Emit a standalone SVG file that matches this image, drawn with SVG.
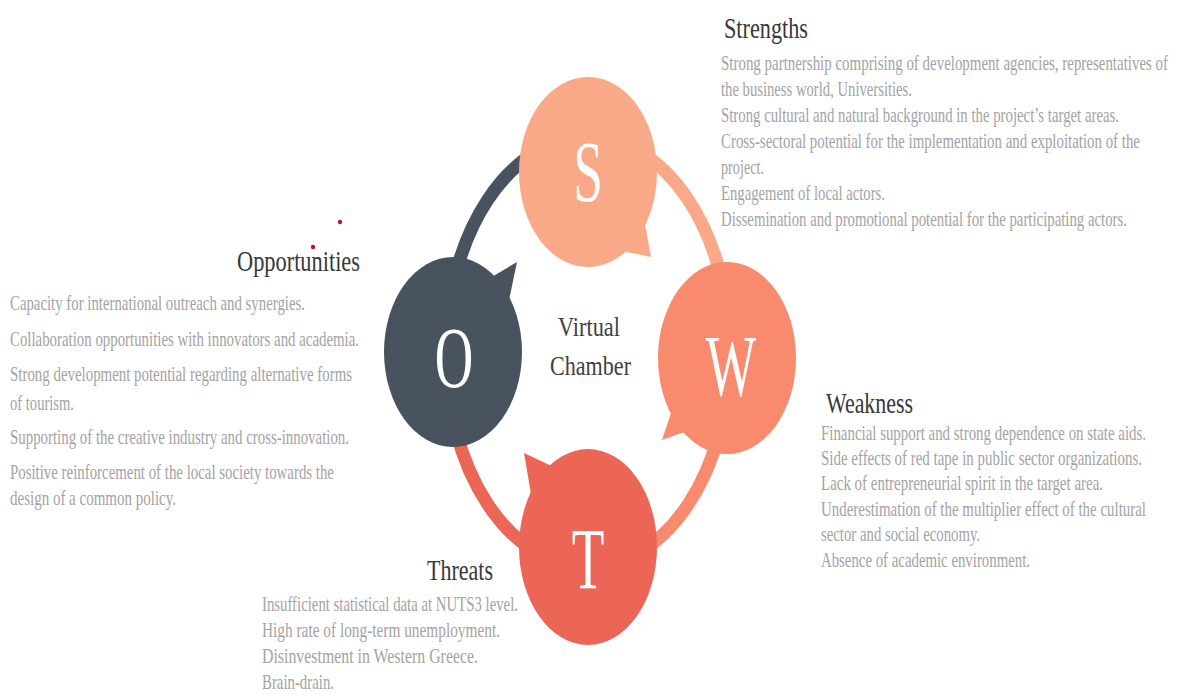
<svg xmlns="http://www.w3.org/2000/svg" width="1181" height="695" viewBox="0 0 1181 695">
  <style>
    .serif { font-family: "Liberation Serif", "Times New Roman", serif; }
    .head { font-size: 30px; fill: #383838; }
    .body { font-size: 20px; fill: #a3a3a3; }
    .letter { font-size: 86px; fill: #ffffff; }
    .center { font-size: 28px; fill: #404040; }
    .arc { fill: none; stroke-width: 13; }
    .dot { fill: #c8102e; }
  </style>

  <rect width="1181" height="695" fill="#ffffff"/>

  <!-- ring segments, one colour per quadrant -->
  <g id="connectors">
    <path class="arc" stroke="#48535f" d="M 446 352 A 142 215 0 0 1 588 137"/>
    <path class="arc" stroke="#f9a987" d="M 588 137 A 142 215 0 0 1 730 352"/>
    <path class="arc" stroke="#f98a6d" d="M 730 352 A 142 215 0 0 1 588 567"/>
    <path class="arc" stroke="#ec6657" d="M 588 567 A 142 215 0 0 1 446 352"/>
  </g>

  <!-- speech-bubble nodes -->
  <g id="node-s" fill="#f9a987">
    <ellipse cx="588" cy="172" rx="69" ry="95"/>
    <polygon points="643,213 651,257 618,250"/>
    <text class="serif letter" text-anchor="middle" transform="matrix(0.62,0,0,1,588,201)">S</text>
  </g>
  <g id="node-o" fill="#48535f">
    <ellipse cx="453" cy="352" rx="69" ry="95"/>
    <polygon points="490,278 517,262 508,305"/>
    <text class="serif letter" text-anchor="middle" transform="matrix(0.62,0,0,1,454,387)">O</text>
  </g>
  <g id="node-w" fill="#f98a6d">
    <ellipse cx="727" cy="358" rx="69" ry="96"/>
    <polygon points="690,430 662,440 672,410"/>
    <text class="serif letter" text-anchor="middle" transform="matrix(0.62,0,0,1,731,395)">W</text>
  </g>
  <g id="node-t" fill="#ec6657">
    <ellipse cx="588" cy="547" rx="69" ry="98"/>
    <polygon points="533,506 524,453 558,469"/>
    <text class="serif letter" text-anchor="middle" transform="matrix(0.62,0,0,1,588,588)">T</text>
  </g>

  <!-- centre label -->
  <g id="node-center" class="serif center">
    <text transform="matrix(0.74,0,0,1,558,336)" textLength="83.8" lengthAdjust="spacingAndGlyphs">Virtual</text>
    <text transform="matrix(0.74,0,0,1,550,375)" textLength="109.5" lengthAdjust="spacingAndGlyphs">Chamber</text>
  </g>

  <!-- Strengths -->
  <g id="strengths" class="serif">
    <text class="head" transform="matrix(0.74,0,0,1,724,38)" textLength="113.5" lengthAdjust="spacingAndGlyphs">Strengths</text>
    <g class="body">
      <text transform="matrix(0.74,0,0,1,721,70)" textLength="604.1" lengthAdjust="spacingAndGlyphs">Strong partnership comprising of development agencies, representatives of</text>
      <text transform="matrix(0.74,0,0,1,721,96)" textLength="258.1" lengthAdjust="spacingAndGlyphs">the business world, Universities.</text>
      <text transform="matrix(0.74,0,0,1,721,122)" textLength="537.8" lengthAdjust="spacingAndGlyphs">Strong cultural and natural background in the project’s target areas.</text>
      <text transform="matrix(0.74,0,0,1,721,148)" textLength="566.2" lengthAdjust="spacingAndGlyphs">Cross-sectoral potential for the implementation and exploitation of the</text>
      <text transform="matrix(0.74,0,0,1,721,174)" textLength="58.1" lengthAdjust="spacingAndGlyphs">project.</text>
      <text transform="matrix(0.74,0,0,1,721,200)" textLength="221.6" lengthAdjust="spacingAndGlyphs">Engagement of local actors.</text>
      <text transform="matrix(0.74,0,0,1,721,226)" textLength="548.6" lengthAdjust="spacingAndGlyphs">Dissemination and promotional potential for the participating actors.</text>
    </g>
  </g>

  <!-- Opportunities -->
  <g id="opportunities" class="serif">
    <circle class="dot" cx="340" cy="222" r="2.2"/>
    <circle class="dot" cx="313" cy="247" r="2.2"/>
    <text class="head" transform="matrix(0.74,0,0,1,237,271)" textLength="166.2" lengthAdjust="spacingAndGlyphs">Opportunities</text>
    <g class="body">
      <text transform="matrix(0.74,0,0,1,10,310)" textLength="398.6" lengthAdjust="spacingAndGlyphs">Capacity for international outreach and synergies.</text>
      <text transform="matrix(0.74,0,0,1,10,346)" textLength="471.6" lengthAdjust="spacingAndGlyphs">Collaboration opportunities with innovators and academia.</text>
      <text transform="matrix(0.74,0,0,1,10,381)" textLength="462.2" lengthAdjust="spacingAndGlyphs">Strong development potential regarding alternative forms</text>
      <text transform="matrix(0.74,0,0,1,10,410)" textLength="86.5" lengthAdjust="spacingAndGlyphs">of tourism.</text>
      <text transform="matrix(0.74,0,0,1,10,444)" textLength="458.1" lengthAdjust="spacingAndGlyphs">Supporting of the creative industry and cross-innovation.</text>
      <text transform="matrix(0.74,0,0,1,10,479)" textLength="437.8" lengthAdjust="spacingAndGlyphs">Positive reinforcement of the local society towards the</text>
      <text transform="matrix(0.74,0,0,1,10,505)" textLength="224.3" lengthAdjust="spacingAndGlyphs">design of a common policy.</text>
    </g>
  </g>

  <!-- Weakness -->
  <g id="weakness" class="serif">
    <text class="head" transform="matrix(0.74,0,0,1,826,413)" textLength="117.6" lengthAdjust="spacingAndGlyphs">Weakness</text>
    <g class="body">
      <text transform="matrix(0.74,0,0,1,821,440)" textLength="439.2" lengthAdjust="spacingAndGlyphs">Financial support and strong dependence on state aids.</text>
      <text transform="matrix(0.74,0,0,1,821,465)" textLength="433.8" lengthAdjust="spacingAndGlyphs">Side effects of red tape in public sector organizations.</text>
      <text transform="matrix(0.74,0,0,1,821,490)" textLength="381.1" lengthAdjust="spacingAndGlyphs">Lack of entrepreneurial spirit in the target area.</text>
      <text transform="matrix(0.74,0,0,1,821,516)" textLength="439.2" lengthAdjust="spacingAndGlyphs">Underestimation of the multiplier effect of the cultural</text>
      <text transform="matrix(0.74,0,0,1,821,541)" textLength="214.9" lengthAdjust="spacingAndGlyphs">sector and social economy.</text>
      <text transform="matrix(0.74,0,0,1,821,567)" textLength="282.4" lengthAdjust="spacingAndGlyphs">Absence of academic environment.</text>
    </g>
  </g>

  <!-- Threats -->
  <g id="threats" class="serif">
    <text class="head" transform="matrix(0.74,0,0,1,427,580)" textLength="89.2" lengthAdjust="spacingAndGlyphs">Threats</text>
    <g class="body">
      <text transform="matrix(0.74,0,0,1,262,611)" textLength="345.9" lengthAdjust="spacingAndGlyphs">Insufficient statistical data at NUTS3 level.</text>
      <text transform="matrix(0.74,0,0,1,262,637)" textLength="321.6" lengthAdjust="spacingAndGlyphs">High rate of long-term unemployment.</text>
      <text transform="matrix(0.74,0,0,1,262,663)" textLength="291.9" lengthAdjust="spacingAndGlyphs">Disinvestment in Western Greece.</text>
      <text transform="matrix(0.74,0,0,1,262,689)" textLength="97.3" lengthAdjust="spacingAndGlyphs">Brain-drain.</text>
    </g>
  </g>
</svg>
